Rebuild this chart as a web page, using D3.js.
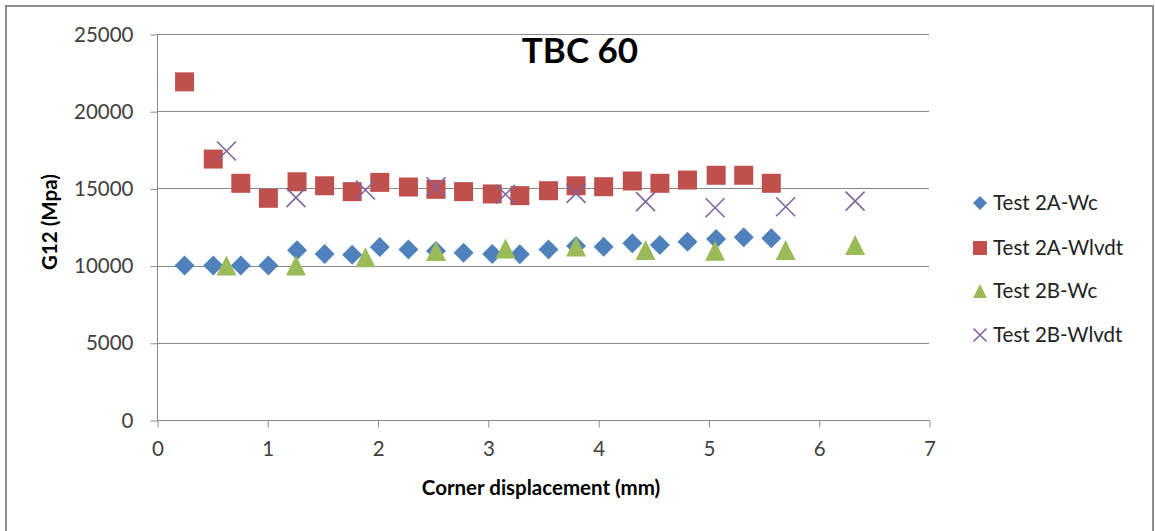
<!DOCTYPE html>
<html>
<head>
<meta charset="utf-8">
<script src="https://cdn.jsdelivr.net/npm/d3@7"></script>
<style>
  body { margin: 0; background: #fff; }
  svg { font-family: Lato, "Open Sans", sans-serif; }
</style>
</head>
<body>
<div id="chart"></div>
<script>
// data
var x2A = [0.25, 0.51, 0.76, 1.01, 1.27, 1.52, 1.77, 2.02, 2.28, 2.53, 2.78, 3.04, 3.29, 3.55, 3.80, 4.05, 4.31, 4.56, 4.81, 5.07, 5.32, 5.57];
var wc2A = [10000, 10000, 10000, 10000, 11000, 10750, 10700, 11200, 11050, 10950, 10830, 10750, 10740, 11050, 11270, 11220, 11440, 11330, 11550, 11720, 11830, 11770];
var wlvdt2A = [21900, 16900, 15330, 14360, 15430, 15170, 14790, 15390, 15090, 14940, 14790, 14640, 14530, 14850, 15170, 15110, 15480, 15330, 15540, 15850, 15850, 15330];
var x2B = [0.63, 1.26, 1.89, 2.53, 3.16, 3.80, 4.43, 5.06, 5.70, 6.33];
var wc2B = [10000, 10000, 10540, 10950, 11100, 11230, 11010, 10960, 11010, 11330];
var wlvdt2B = [17420, 14400, 14900, 15110, 14620, 14680, 14140, 13750, 13810, 14180];
var xTicks = [0, 1, 2, 3, 4, 5, 6, 7];
var yTicks = [0, 5000, 10000, 15000, 20000, 25000];
var seriesNames = ['Test 2A-Wc', 'Test 2A-Wlvdt', 'Test 2B-Wc', 'Test 2B-Wlvdt'];
var colors = ['#4F81BD', '#C0504D', '#9BBB59', '#8064A2'];

var W = 1155, H = 531;
var svg = d3.select('#chart').append('svg').attr('width', W).attr('height', H);

// outer chart border
svg.append('rect')
  .attr('x', 6).attr('y', 6).attr('width', W - 8).attr('height', H)
  .attr('fill', '#fff').attr('stroke', '#8c8c8c').attr('stroke-width', 2);

var x = d3.scaleLinear().domain([0, 7]).range([157, 929]);
var y = d3.scaleLinear().domain([0, 25000]).range([420, 34]);

// gridlines
svg.append('g').selectAll('line').data(yTicks).enter().append('line')
  .attr('x1', 157).attr('x2', 929)
  .attr('y1', function (d) { return Math.round(y(d)) + 0.5; })
  .attr('y2', function (d) { return Math.round(y(d)) + 0.5; })
  .attr('stroke', '#898989').attr('stroke-width', 1);

var yAxis = svg.append('g').attr('transform', 'translate(157.5,0.5)')
  .call(d3.axisLeft(y).tickValues(yTicks).tickSize(7).tickPadding(17).tickFormat(d3.format('d')));
var xAxis = svg.append('g').attr('transform', 'translate(0.5,420.5)')
  .call(d3.axisBottom(x).tickValues(xTicks).tickSize(7).tickPadding(14).tickFormat(d3.format('d')));
[yAxis, xAxis].forEach(function (a) {
  a.selectAll('.domain').attr('stroke', '#898989');
  a.selectAll('.tick line').attr('stroke', '#898989');
  a.selectAll('text').attr('fill', '#404040').style('font-size', '20.5px').style('font-family', 'Lato, sans-serif');
});
xAxis.select('.domain').attr('d', 'M' + x(0) + ',0H' + x(7));
yAxis.select('.domain').attr('d', 'M0,' + y(0) + 'V' + y(25000));

// markers
function marker(sel, i, s) {
  if (i === 0) {
    sel.append('path').attr('d', 'M0,' + (-s) + 'L' + s + ',0L0,' + s + 'L' + (-s) + ',0Z').attr('fill', colors[0]);
  } else if (i === 1) {
    sel.append('rect').attr('x', -s).attr('y', -s).attr('width', 2 * s).attr('height', 2 * s).attr('fill', colors[1]);
  } else if (i === 2) {
    sel.append('path').attr('d', 'M0,' + (-s) + 'L' + s + ',' + s + 'L' + (-s) + ',' + s + 'Z').attr('fill', colors[2]);
  } else {
    sel.append('path').attr('d', 'M' + (-s) + ',' + (-s) + 'L' + s + ',' + s + 'M' + (-s) + ',' + s + 'L' + s + ',' + (-s))
      .attr('stroke', colors[3]).attr('stroke-width', 1.6).attr('fill', 'none');
  }
}

var series = [
  { xs: x2A, ys: wc2A, size: 10 },
  { xs: x2A, ys: wlvdt2A, size: 9.5 },
  { xs: x2B, ys: wc2B, size: 10 },
  { xs: x2B, ys: wlvdt2B, size: 9.5 }
];
series.forEach(function (s, i) {
  s.xs.forEach(function (xv, j) {
    var g = svg.append('g').attr('transform', 'translate(' + x(xv) + ',' + y(s.ys[j]) + ')');
    marker(g, i, s.size);
  });
});

// title
svg.append('text').attr('x', 580).attr('y', 63).attr('text-anchor', 'middle')
  .style('font-size', '35px').style('font-weight', 'bold').attr('fill', '#000').text('TBC 60');

// axis titles
svg.append('text').attr('x', 541).attr('y', 495).attr('text-anchor', 'middle')
  .style('font-size', '20.5px').style('font-weight', 'bold').attr('fill', '#000').text('Corner displacement (mm)');
svg.append('text').attr('transform', 'translate(57,222) rotate(-90)').attr('text-anchor', 'middle')
  .style('font-size', '20.5px').style('font-weight', 'bold').attr('fill', '#000').text('G12 (Mpa)');

// legend
var legY = [203, 248, 291, 335];
seriesNames.forEach(function (name, i) {
  var g = svg.append('g').attr('transform', 'translate(980,' + legY[i] + ')');
  marker(g, i, i === 3 ? 6.5 : 7);
  g.append('text').attr('x', 13).attr('y', 7).style('font-size', '20.5px').attr('fill', '#222').text(name);
});
</script>
</body>
</html>
